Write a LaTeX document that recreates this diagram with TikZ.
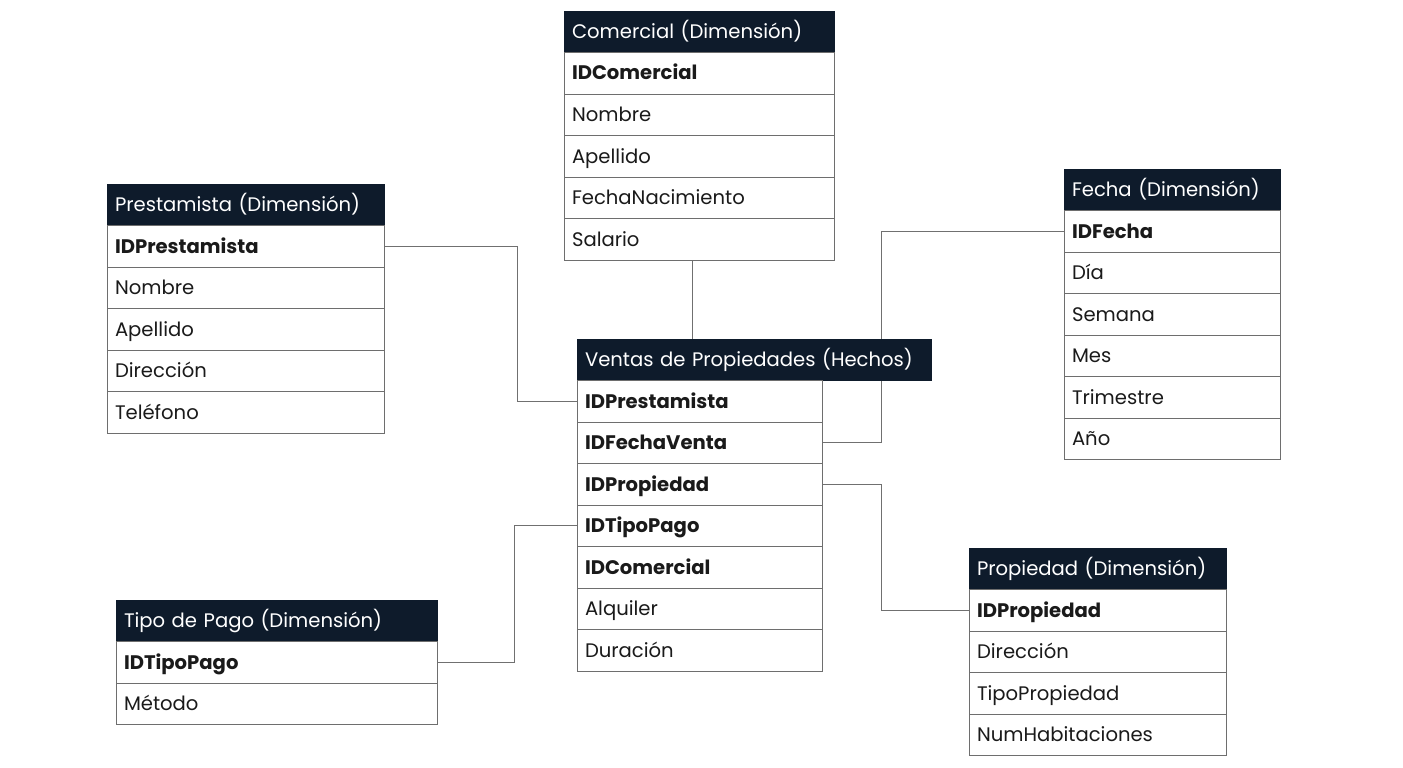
\documentclass[tikz,border=0pt]{standalone}
\usepackage{fontspec}
\setmainfont{Poppins}
\usetikzlibrary{positioning,backgrounds}
\definecolor{navy}{HTML}{0E1B2B}
\definecolor{rowline}{HTML}{6E6E6E}
\definecolor{conncol}{HTML}{707070}
\definecolor{txt}{HTML}{1A1A1A}
\begin{document}
\begin{tikzpicture}[x=1pt,y=-1pt,
  cell/.style={anchor=north west, minimum height=41.5pt, inner xsep=8pt, inner ysep=0pt, outer sep=0pt,
    text height=16pt, text depth=2.5pt, align=left, font=\fontsize{19.6}{23}\selectfont},
  hdr/.style={cell, fill=navy, draw=navy, line width=0.6pt, text=white},
  row/.style={cell, fill=white, draw=rowline, line width=0.8pt, text=txt},
  key/.style={row, font=\fontsize{19.6}{23}\selectfont\bfseries},
  conn/.style={draw=conncol, line width=0.8pt}
]
\useasboundingbox (0,0) rectangle (1403,768);

% Comercial
\node[hdr, text width=254pt] (ch) at (564,11) {Comercial (Dimensión)};
\node[key, text width=254pt, below=0pt of ch] (c1) {IDComercial};
\node[row, text width=254pt, below=0pt of c1] (c2) {Nombre};
\node[row, text width=254pt, below=0pt of c2] (c3) {Apellido};
\node[row, text width=254pt, below=0pt of c3] (c4) {FechaNacimiento};
\node[row, text width=254pt, below=0pt of c4] (c5) {Salario};

% Prestamista
\node[hdr, text width=261pt] (ph) at (107,184) {Prestamista (Dimensión)};
\node[key, text width=261pt, below=0pt of ph] (p1) {IDPrestamista};
\node[row, text width=261pt, below=0pt of p1] (p2) {Nombre};
\node[row, text width=261pt, below=0pt of p2] (p3) {Apellido};
\node[row, text width=261pt, below=0pt of p3] (p4) {Dirección};
\node[row, text width=261pt, below=0pt of p4] (p5) {Teléfono};

% Fecha
\node[hdr, text width=200pt] (fh) at (1064,169) {Fecha (Dimensión)};
\node[key, text width=200pt, below=0pt of fh] (f1) {IDFecha};
\node[row, text width=200pt, below=0pt of f1] (f2) {Día};
\node[row, text width=200pt, below=0pt of f2] (f3) {Semana};
\node[row, text width=200pt, below=0pt of f3] (f4) {Mes};
\node[row, text width=200pt, below=0pt of f4] (f5) {Trimestre};
\node[row, text width=200pt, below=0pt of f5] (f6) {Año};

% Ventas
\node[hdr, text width=338pt] (vh) at (577,339) {Ventas de Propiedades (Hechos)};
\node[key, text width=229pt, anchor=north west] (v1) at (vh.south west) {IDPrestamista};
\node[key, text width=229pt, below=0pt of v1] (v2) {IDFechaVenta};
\node[key, text width=229pt, below=0pt of v2] (v3) {IDPropiedad};
\node[key, text width=229pt, below=0pt of v3] (v4) {IDTipoPago};
\node[key, text width=229pt, below=0pt of v4] (v5) {IDComercial};
\node[row, text width=229pt, below=0pt of v5] (v6) {Alquiler};
\node[row, text width=229pt, below=0pt of v6] (v7) {Duración};

% Tipo de Pago
\node[hdr, text width=305pt] (th) at (116,600) {Tipo de Pago (Dimensión)};
\node[key, text width=305pt, below=0pt of th] (t1) {IDTipoPago};
\node[row, text width=305pt, below=0pt of t1] (t2) {Método};

% Propiedad
\node[hdr, text width=241pt] (rh) at (969,548) {Propiedad (Dimensión)};
\node[key, text width=241pt, below=0pt of rh] (r1) {IDPropiedad};
\node[row, text width=241pt, below=0pt of r1] (r2) {Dirección};
\node[row, text width=241pt, below=0pt of r2] (r3) {TipoPropiedad};
\node[row, text width=241pt, below=0pt of r3] (r4) {NumHabitaciones};

% connectors
\coordinate (ja) at (517,0);
\coordinate (jb) at (692,0);
\coordinate (jc) at (881,0);
\coordinate (jd) at (514,0);
\begin{scope}[on background layer]
\draw[conn] (p1.east) -- (p1.east -| ja) -- (v1.west -| ja) -- (v1.west);
\draw[conn] (c5.south -| jb) -- (vh.north -| jb);
\draw[conn] (f1.west) -- (f1.west -| jc) -- (v2.east -| jc) -- (v2.east);
\draw[conn] (v3.east) -- (v3.east -| jc) -- (r1.west -| jc) -- (r1.west);
\draw[conn] (t1.east) -- (t1.east -| jd) -- (v4.west -| jd) -- (v4.west);
\end{scope}
\end{tikzpicture}
\end{document}
